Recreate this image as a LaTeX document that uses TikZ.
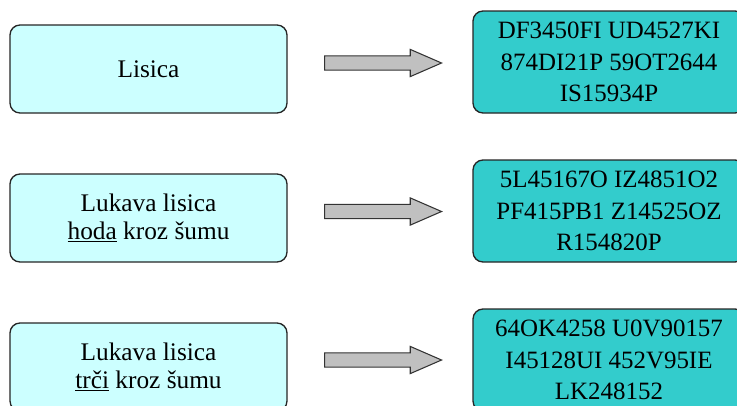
\documentclass[tikz,border=0pt]{standalone}
\usepackage{fontspec}
\setmainfont{Liberation Serif}
\usepackage{tikz}
\usetikzlibrary{positioning,shapes.arrows}
\definecolor{plainfill}{HTML}{CCFFFF}
\definecolor{codefill}{HTML}{33CCCC}
\definecolor{arrowfill}{HTML}{C0C0C0}
\tikzset{%
	box/.style={
		rectangle,
		draw=black!85,
		line width=1pt,
		rounded corners=7.5pt,
		align=center,
		inner sep=0pt
	},
	box-plain/.style={
		fill=plainfill,
		minimum width=207.75pt,
		minimum height=66pt,
		font=\rmfamily\fontsize{19}{20.5}\selectfont
	},
	box-code/.style={
		fill=codefill,
		minimum width=204pt,
		minimum height=76.5pt,
		font=\rmfamily\fontsize{18.7}{23.6}\selectfont
	},
	blockarrow/.style={
		single arrow,
		draw=black!80,
		line width=0.8pt,
		fill=arrowfill,
		minimum height=87.75pt,
		inner xsep=0pt,
		inner ysep=4.9pt,
		single arrow head extend=4.9pt,
		single arrow tip angle=47,
		anchor=tail
	},
}

\begin{document}
\begin{tikzpicture}[x=0.75pt, y=-0.75pt]
\useasboundingbox (0,0) rectangle (737,405);
\clip (0,0) rectangle (737,405);

% plain texts
\foreach \t [count=\y] in {{Lisica},
	{Lukava lisica\\\underline{hoda} kroz šumu},
	{Lukava lisica\\\underline{trči} kroz šumu}}
	\node[box, box-plain] (plain-\y) at (148.5,69+\y*149-149) {\t};

% coded texts
\foreach \t [count=\y] in {{DF3450FI UD4527KI\\874DI21P 59OT2644\\IS15934P},
	{5L45167O IZ4851O2\\PF415PB1 Z14525OZ\\R154820P},
	{64OK4258 U0V90157\\I45128UI 452V95IE\\LK248152}}
	\node[box, box-code] (code-\y) at (609,62+\y*149-149) {\t};

% arrows
\foreach \y in {1,2,3}
	\node[blockarrow] (arrow-\y) at (324,63+\y*148.5-148.5) {};

\end{tikzpicture}
\end{document}
